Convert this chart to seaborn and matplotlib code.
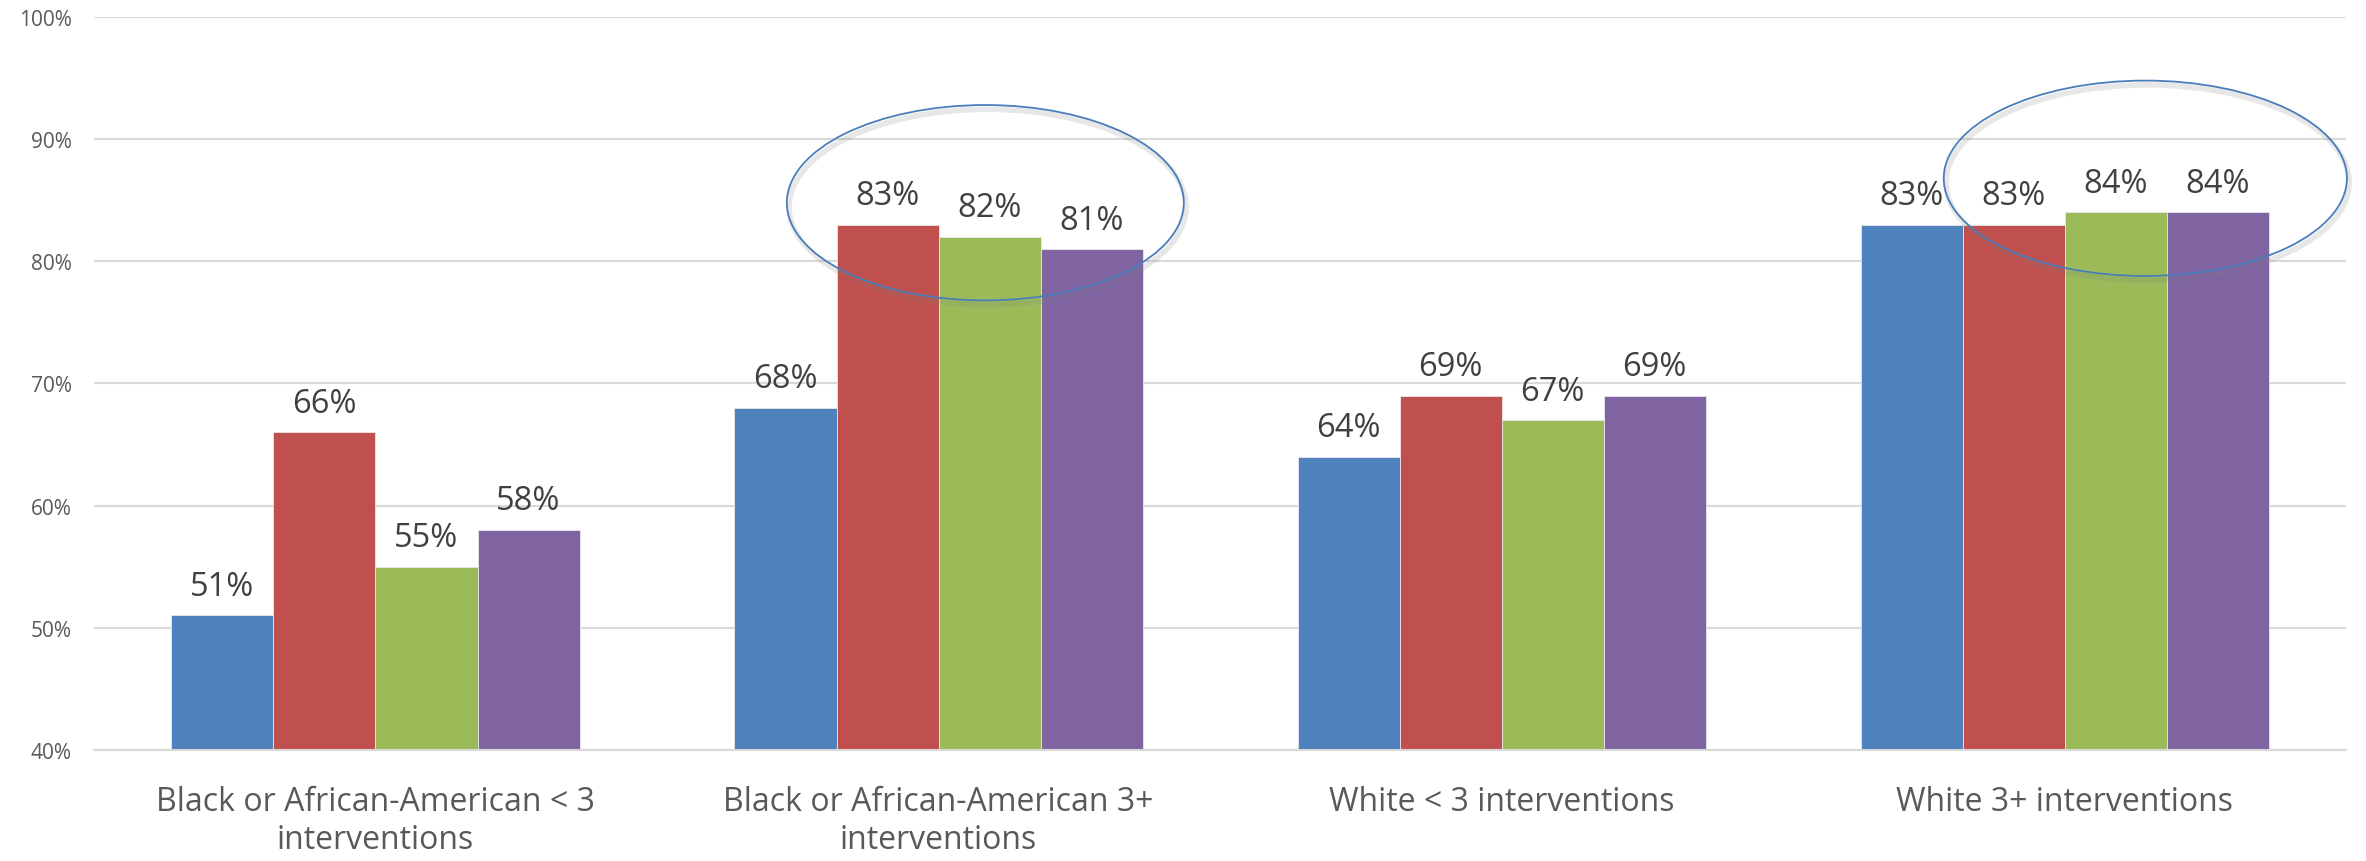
import matplotlib
matplotlib.use("Agg")
import matplotlib.pyplot as plt
import seaborn as sns
import pandas as pd
from matplotlib.patches import Ellipse
from matplotlib.ticker import FuncFormatter

groups = [
    "Black or African-American < 3\ninterventions",
    "Black or African-American 3+\ninterventions",
    "White < 3 interventions",
    "White 3+ interventions",
]
series = ["Series 1", "Series 2", "Series 3", "Series 4"]
series_1 = [51, 68, 64, 83]
series_2 = [66, 83, 69, 83]
series_3 = [55, 82, 67, 84]
series_4 = [58, 81, 69, 84]
colors = ["#4F81BD", "#C0504D", "#9BBB59", "#8064A2"]
y_ticks = [40, 50, 60, 70, 80, 90, 100]

rows = []
for name, vals in zip(series, [series_1, series_2, series_3, series_4]):
    for g, v in zip(groups, vals):
        rows.append({"group": g, "series": name, "value": v})
df = pd.DataFrame(rows)

sns.set_style("white")
plt.rcParams["font.family"] = ["Open Sans", "DejaVu Sans"]

fig = plt.figure(figsize=(23.66, 8.62), dpi=100)
ax = fig.add_axes([0.0397, 0.129, 0.952, 0.850])

sns.barplot(
    data=df, x="group", y="value", hue="series",
    palette=colors, width=0.725, saturation=1, gap=0,
    edgecolor="#e8e8e8", linewidth=0.6, legend=False, ax=ax, zorder=2,
)

ax.set_ylim(40, 100)
ax.set_yticks(y_ticks)
ax.yaxis.set_major_formatter(FuncFormatter(lambda v, _: f"{v:.0f}%"))
ax.grid(axis="y", color="#d9d9d9", linewidth=1.5, zorder=0)
ax.set_axisbelow(True)
for s in ["top", "right", "left"]:
    ax.spines[s].set_visible(False)
ax.spines["bottom"].set_color("#d9d9d9")
ax.spines["bottom"].set_linewidth(1.5)

ax.tick_params(axis="y", length=0, pad=16, labelcolor="#595959", labelsize=15)
ax.tick_params(axis="x", length=0, pad=25, labelcolor="#595959", labelsize=23)
ax.set_xlabel("")
ax.set_ylabel("")

for cont in ax.containers:
    ax.bar_label(cont, labels=[f"{v:.0f}%" for v in cont.datavalues],
                 padding=9, fontsize=23.5, color="#404040")

# highlight ellipses (with a soft shadow)
for cx, cy, w, h in [(1.083, 84.8, 0.705, 16.0), (3.143, 86.8, 0.716, 16.0)]:
    shadow = Ellipse((cx + 0.004, cy - 0.35), w, h, fill=False,
                     edgecolor="#7f7f7f", linewidth=4, alpha=0.18,
                     clip_on=False, zorder=4)
    ax.add_patch(shadow)
    e = Ellipse((cx, cy), w, h, fill=False, edgecolor="#4A7EBB",
                linewidth=1.3, clip_on=False, zorder=5)
    ax.add_patch(e)

fig.savefig("out.png", dpi=100)
